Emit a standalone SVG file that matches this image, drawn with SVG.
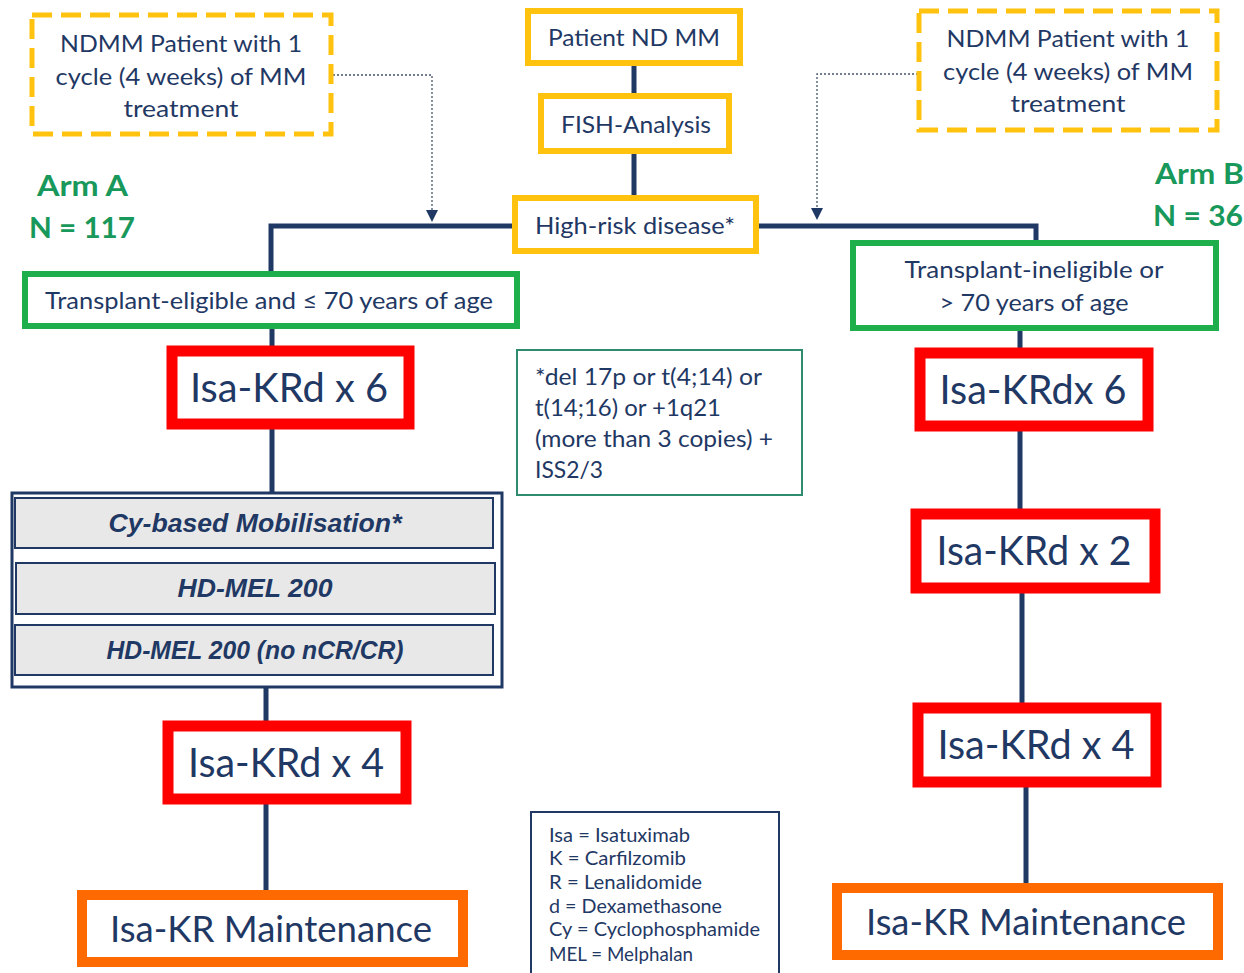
<svg xmlns="http://www.w3.org/2000/svg" width="1244" height="973" viewBox="0 0 1244 973">
<defs>
<style>
.t{font-family:Lato,"Open Sans","Liberation Sans",sans-serif;fill:#1F3864;text-anchor:middle}
.s{text-anchor:start}
.yb{fill:#fff;stroke:#FFC20E;stroke-width:6}
.yd{fill:#fff;stroke:#FFC20E;stroke-width:5;stroke-dasharray:20 9}
.gb{fill:#fff;stroke:#1EAF4C;stroke-width:6}
.rb{fill:#fff;stroke:#FF0000;stroke-width:11}
.ob{fill:#fff;stroke:#FF6A00;stroke-width:10}
.gr{fill:#E8E8E8;stroke:#1F3864;stroke-width:2}
.it{font-family:"Liberation Sans",Arial,sans-serif;font-weight:bold;font-style:italic;font-size:26px;fill:#1F3864;text-anchor:middle}
.arm{font-family:Lato,"Open Sans","Liberation Sans",sans-serif;font-weight:bold;font-size:29px;fill:#18985A}
.ln{fill:none;stroke:#1F3864;stroke-width:5}
.dt{fill:none;stroke:#44546A;stroke-width:1.3;stroke-dasharray:2 2}
</style>
</defs>
<rect width="1244" height="973" fill="#fff"/>

<g id="connectors">
<path class="ln" d="M634,63 V95 M634,152 V197"/>
<path class="ln" d="M513,226 H271 V272"/>
<path class="ln" d="M758,226 H1036 V241"/>
<path class="ln" d="M272,328 V346 M272,429 V493"/>
<path class="ln" d="M266,688 V722 M266,804 V891"/>
<path class="ln" d="M1020,330 V349 M1020,431 V510"/>
<path class="ln" d="M1022,593 V704 M1026,787 V884"/>
<path class="dt" d="M333,75 H432 V212"/>
<path class="dt" d="M918,74 H817 V210"/>
<path d="M426,210 L438,210 L432,222 Z" fill="#1F3864"/>
<path d="M811,208 L823,208 L817,220 Z" fill="#1F3864"/>
</g>

<g id="ndmm-left">
<rect class="yd" x="32" y="15" width="299" height="119"/>
<text class="t" font-size="23.5"><tspan x="181" y="52" textLength="242" lengthAdjust="spacingAndGlyphs">NDMM Patient with 1</tspan><tspan x="181" y="85" textLength="251" lengthAdjust="spacingAndGlyphs">cycle (4 weeks) of MM</tspan><tspan x="181" y="117" textLength="115" lengthAdjust="spacingAndGlyphs">treatment</tspan></text>
</g>

<g id="ndmm-right">
<rect class="yd" x="919" y="11" width="298" height="119"/>
<text class="t" font-size="23.5"><tspan x="1068" y="47" textLength="243" lengthAdjust="spacingAndGlyphs">NDMM Patient with 1</tspan><tspan x="1068" y="80" textLength="250" lengthAdjust="spacingAndGlyphs">cycle (4 weeks) of MM</tspan><tspan x="1068" y="112" textLength="115" lengthAdjust="spacingAndGlyphs">treatment</tspan></text>
</g>

<g id="patient">
<rect class="yb" x="528" y="11" width="212" height="52"/>
<text class="t" font-size="23.5" x="634" y="46" textLength="172" lengthAdjust="spacingAndGlyphs">Patient ND MM</text>
</g>

<g id="fish">
<rect class="yb" x="541" y="96" width="188" height="55"/>
<text class="t" font-size="23.5" x="636" y="133" textLength="150" lengthAdjust="spacingAndGlyphs">FISH-Analysis</text>
</g>

<g id="highrisk">
<rect class="yb" x="515" y="198" width="241" height="53"/>
<text class="t" font-size="23.5" x="635" y="234" textLength="200" lengthAdjust="spacingAndGlyphs">High-risk disease*</text>
</g>

<g id="arm-a">
<text class="arm" x="37" y="196" textLength="91" lengthAdjust="spacingAndGlyphs">Arm A</text>
<text class="arm" x="29" y="238" textLength="106" lengthAdjust="spacingAndGlyphs">N = 117</text>
</g>

<g id="arm-b">
<text class="arm" x="1155" y="184" textLength="89" lengthAdjust="spacingAndGlyphs">Arm B</text>
<text class="arm" x="1153" y="226" textLength="90" lengthAdjust="spacingAndGlyphs">N = 36</text>
</g>

<g id="eligible">
<rect class="gb" x="25" y="274" width="492" height="52"/>
<text class="t" font-size="23.5" x="269" y="309" textLength="448" lengthAdjust="spacingAndGlyphs">Transplant-eligible and ≤ 70 years of age</text>
</g>

<g id="ineligible">
<rect class="gb" x="853" y="243" width="363" height="85"/>
<text class="t" font-size="23.5"><tspan x="1034" y="278" textLength="259" lengthAdjust="spacingAndGlyphs">Transplant-ineligible or</tspan><tspan x="1034" y="311" textLength="189" lengthAdjust="spacingAndGlyphs">&gt; 70 years of age</tspan></text>
</g>

<g id="footnote">
<rect x="517" y="350" width="285" height="145" fill="#fff" stroke="#2E8B6E" stroke-width="2"/>
<text class="t s" font-size="23"><tspan x="535" y="385" textLength="227" lengthAdjust="spacingAndGlyphs">*del 17p or t(4;14) or</tspan><tspan x="535" y="416" textLength="186" lengthAdjust="spacingAndGlyphs">t(14;16) or +1q21</tspan><tspan x="535" y="447" textLength="238" lengthAdjust="spacingAndGlyphs">(more than 3 copies) +</tspan><tspan x="535" y="478" textLength="68" lengthAdjust="spacingAndGlyphs">ISS2/3</tspan></text>
</g>

<g id="a-krd6">
<rect class="rb" x="172" y="351" width="237" height="73"/>
<text class="t" font-size="40" x="289" y="402" textLength="198" lengthAdjust="spacingAndGlyphs">Isa-KRd x 6</text>
</g>

<g id="asct">
<rect x="12" y="493" width="490" height="194" fill="#fff" stroke="#1F3864" stroke-width="3"/>
<rect class="gr" x="15" y="498" width="478" height="50"/>
<text class="it" x="255" y="532" textLength="293" lengthAdjust="spacingAndGlyphs">Cy-based Mobilisation*</text>
<rect class="gr" x="16" y="563" width="479" height="51"/>
<text class="it" x="255" y="597" textLength="155" lengthAdjust="spacingAndGlyphs">HD-MEL 200</text>
<rect class="gr" x="15" y="625" width="478" height="50"/>
<text class="it" x="255" y="659" textLength="297" lengthAdjust="spacingAndGlyphs">HD-MEL 200 (no nCR/CR)</text>
</g>

<g id="a-krd4">
<rect class="rb" x="168" y="726" width="238" height="73"/>
<text class="t" font-size="40" x="286" y="777" textLength="196" lengthAdjust="spacingAndGlyphs">Isa-KRd x 4</text>
</g>

<g id="a-maint">
<rect class="ob" x="82" y="895" width="381" height="67"/>
<text class="t" font-size="36" x="271" y="942" textLength="322" lengthAdjust="spacingAndGlyphs">Isa-KR Maintenance</text>
</g>

<g id="b-krd6">
<rect class="rb" x="920" y="353" width="228" height="73"/>
<text class="t" font-size="40" x="1033" y="404" textLength="187" lengthAdjust="spacingAndGlyphs">Isa-KRdx 6</text>
</g>

<g id="b-krd2">
<rect class="rb" x="916" y="514" width="239" height="74"/>
<text class="t" font-size="40" x="1034" y="565" textLength="195" lengthAdjust="spacingAndGlyphs">Isa-KRd x 2</text>
</g>

<g id="b-krd4">
<rect class="rb" x="918" y="708" width="238" height="74"/>
<text class="t" font-size="40" x="1036" y="759" textLength="197" lengthAdjust="spacingAndGlyphs">Isa-KRd x 4</text>
</g>

<g id="b-maint">
<rect class="ob" x="837" y="888" width="381" height="67"/>
<text class="t" font-size="36" x="1026" y="935" textLength="320" lengthAdjust="spacingAndGlyphs">Isa-KR Maintenance</text>
</g>

<g id="legend">
<rect x="531" y="812" width="248" height="170" fill="#fff" stroke="#1F3864" stroke-width="2"/>
<text class="t s" font-size="19"><tspan x="549" y="842" textLength="141" lengthAdjust="spacingAndGlyphs">Isa = Isatuximab</tspan><tspan x="549" y="865" textLength="137" lengthAdjust="spacingAndGlyphs">K = Carfilzomib</tspan><tspan x="549" y="889" textLength="153" lengthAdjust="spacingAndGlyphs">R = Lenalidomide</tspan><tspan x="549" y="913" textLength="173" lengthAdjust="spacingAndGlyphs">d = Dexamethasone</tspan><tspan x="549" y="936" textLength="211" lengthAdjust="spacingAndGlyphs">Cy = Cyclophosphamide</tspan><tspan x="549" y="961" textLength="144" lengthAdjust="spacingAndGlyphs">MEL = Melphalan</tspan></text>
</g>
</svg>
